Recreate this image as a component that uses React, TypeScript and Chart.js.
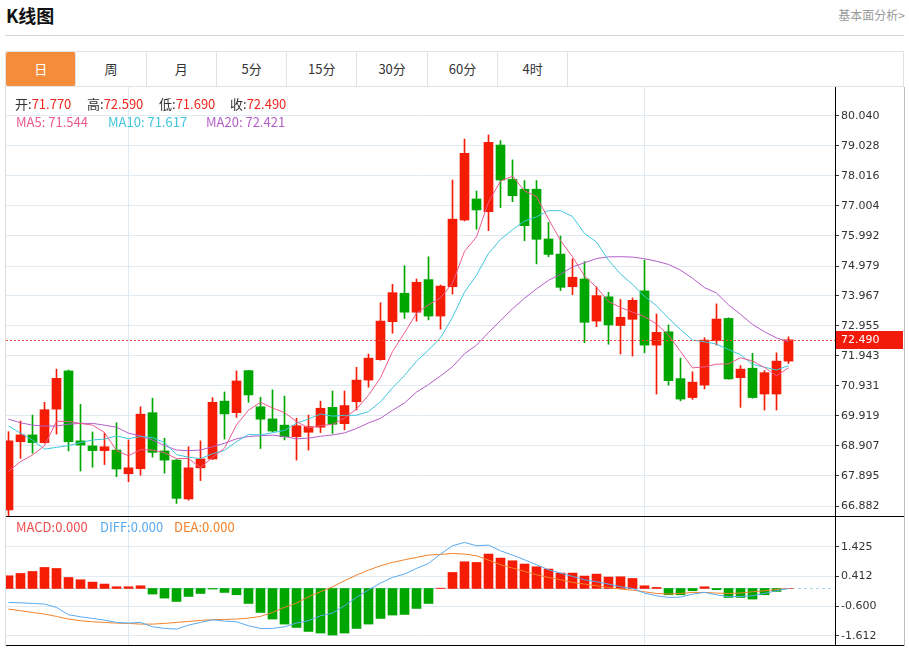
import React, { useEffect, useRef } from 'react';
import { Chart, registerables } from 'chart.js';

Chart.register(...registerables);

// ---------------- data ----------------
const opens = [66.75, 69.05, 69.28, 69.02, 70.15, 71.44, 69.08, 68.91, 68.75, 68.77, 67.97, 68.14, 70.03, 68.74, 68.43, 67.12, 68.17, 68.47, 70.42, 70.03, 71.45, 70.23, 69.82, 69.61, 69.22, 69.37, 69.54, 70.21, 69.66, 70.40, 71.13, 71.82, 73.10, 74.06, 73.42, 74.52, 73.29, 74.28, 76.53, 77.24, 76.81, 79.06, 77.90, 77.57, 77.57, 75.89, 75.38, 74.28, 74.54, 73.12, 73.94, 72.97, 73.18, 74.14, 72.31, 72.76, 71.18, 70.54, 70.96, 72.46, 73.21, 71.21, 71.53, 70.66, 70.66, 71.77];
const highs = [69.39, 69.75, 69.95, 70.38, 71.50, 71.47, 70.31, 69.38, 69.34, 69.69, 69.11, 70.23, 70.52, 69.17, 68.45, 68.88, 69.08, 70.54, 70.73, 71.44, 71.46, 70.55, 70.80, 70.59, 69.84, 69.95, 70.42, 70.76, 70.76, 71.56, 72.01, 73.74, 74.36, 74.99, 74.54, 75.29, 74.34, 77.88, 79.26, 77.51, 79.40, 79.21, 78.56, 77.86, 77.86, 76.45, 75.99, 75.22, 75.13, 74.28, 74.09, 73.85, 73.90, 75.18, 73.36, 72.99, 71.87, 71.41, 72.56, 73.70, 73.23, 71.62, 72.03, 71.45, 72.05, 72.59];
const lows = [66.45, 68.49, 68.66, 69.00, 69.31, 68.74, 68.06, 68.19, 68.28, 67.87, 67.70, 67.92, 68.53, 67.99, 66.97, 67.08, 67.74, 68.45, 69.14, 69.87, 70.38, 68.82, 69.39, 69.11, 68.43, 68.77, 69.36, 69.33, 69.45, 70.12, 70.89, 71.80, 72.71, 73.21, 73.12, 73.16, 72.85, 74.03, 76.50, 76.22, 76.17, 76.95, 77.15, 75.83, 75.05, 75.29, 74.15, 74.01, 72.39, 72.93, 72.34, 72.01, 71.94, 72.05, 70.66, 70.96, 70.43, 70.48, 70.83, 72.31, 71.16, 70.21, 70.52, 70.12, 70.12, 71.69];
const closes = [69.08, 69.28, 69.02, 70.13, 71.19, 69.05, 68.94, 68.75, 68.88, 68.13, 68.17, 69.98, 68.69, 68.43, 67.14, 68.17, 68.47, 70.38, 69.99, 71.10, 70.63, 69.81, 69.41, 69.22, 69.59, 69.56, 70.18, 69.64, 70.27, 71.13, 71.87, 73.12, 74.08, 73.42, 74.43, 73.29, 74.30, 76.56, 78.78, 76.87, 79.15, 77.88, 77.35, 76.34, 75.88, 75.37, 74.26, 74.60, 73.08, 73.98, 72.99, 73.25, 73.82, 72.31, 72.74, 71.11, 70.49, 71.06, 72.48, 73.19, 71.17, 71.50, 70.54, 71.38, 71.77, 72.49];

const ma5 = [68.05, 68.38, 68.60, 68.91, 69.74, 69.734, 69.666, 69.612, 69.362, 68.75, 68.574, 68.782, 68.77, 68.68, 68.482, 68.482, 68.18, 68.518, 68.83, 69.622, 70.114, 70.382, 70.188, 70.034, 69.732, 69.518, 69.592, 69.638, 69.848, 70.156, 70.618, 71.206, 72.094, 72.724, 73.384, 73.668, 73.904, 74.40, 75.472, 75.96, 77.132, 77.848, 78.006, 77.518, 77.32, 76.564, 75.84, 75.29, 74.638, 74.258, 73.782, 73.58, 73.424, 73.27, 73.022, 72.646, 72.094, 71.542, 71.576, 71.666, 71.678, 71.88, 71.776, 71.556, 71.272, 71.544];
const ma10 = [69.58, 69.34, 69.11, 68.80, 68.86, 68.92, 69.02, 69.11, 69.14, 69.245, 69.154, 69.224, 69.191, 69.021, 68.616, 68.528, 68.481, 68.644, 68.755, 69.052, 69.298, 69.281, 69.353, 69.432, 69.677, 69.816, 69.987, 69.913, 69.941, 69.944, 70.068, 70.399, 70.866, 71.286, 71.77, 72.143, 72.555, 73.247, 74.098, 74.672, 75.40, 75.876, 76.203, 76.495, 76.64, 76.848, 76.844, 76.648, 76.078, 75.789, 75.173, 74.71, 74.357, 73.954, 73.64, 73.214, 72.837, 72.483, 72.423, 72.344, 72.162, 71.987, 71.659, 71.566, 71.469, 71.617];
const ma20 = [69.81, 69.69, 69.61, 69.58, 69.58, 69.64, 69.67, 69.67, 69.61, 69.54, 69.34, 69.25, 69.11, 68.92, 68.77, 68.75, 68.77, 68.88, 69.00, 69.149, 69.226, 69.253, 69.272, 69.227, 69.147, 69.172, 69.234, 69.279, 69.348, 69.498, 69.683, 69.84, 70.11, 70.359, 70.724, 70.98, 71.271, 71.58, 72.02, 72.308, 72.734, 73.138, 73.535, 73.891, 74.205, 74.496, 74.70, 74.948, 75.088, 75.231, 75.287, 75.293, 75.28, 75.225, 75.14, 75.031, 74.84, 74.566, 74.25, 74.067, 73.668, 73.349, 73.008, 72.76, 72.555, 72.421];

const macdHist = [0.433, 0.512, 0.580, 0.717, 0.682, 0.375, 0.297, 0.218, 0.150, 0.058, 0.058, 0.092, -0.191, -0.328, -0.444, -0.273, -0.171, -0.020, -0.136, -0.215, -0.512, -0.819, -1.044, -1.215, -1.331, -1.467, -1.522, -1.590, -1.522, -1.365, -1.215, -1.024, -0.908, -0.887, -0.682, -0.512, 0.010, 0.546, 0.911, 0.887, 1.174, 1.037, 0.945, 0.833, 0.740, 0.662, 0.525, 0.525, 0.423, 0.491, 0.389, 0.399, 0.341, 0.092, 0.034, -0.215, -0.215, -0.078, 0.058, -0.044, -0.307, -0.307, -0.362, -0.215, -0.102, 0.000];
const diffLine = [-0.477, -0.488, -0.511, -0.533, -0.647, -0.897, -0.966, -1.023, -1.079, -1.159, -1.182, -1.159, -1.307, -1.364, -1.386, -1.250, -1.159, -1.068, -1.113, -1.136, -1.273, -1.364, -1.364, -1.307, -1.182, -1.102, -0.931, -0.840, -0.590, -0.306, -0.044, 0.183, 0.376, 0.490, 0.683, 0.854, 1.173, 1.457, 1.571, 1.457, 1.480, 1.286, 1.139, 0.979, 0.809, 0.638, 0.524, 0.411, 0.297, 0.229, 0.149, 0.058, 0.001, -0.158, -0.249, -0.306, -0.295, -0.192, -0.135, -0.215, -0.283, -0.272, -0.249, -0.170, -0.078, 0.000];
const deaLine = [-0.704, -0.761, -0.818, -0.875, -0.954, -1.045, -1.102, -1.136, -1.159, -1.182, -1.193, -1.216, -1.216, -1.193, -1.159, -1.125, -1.091, -1.068, -1.057, -1.045, -1.011, -0.954, -0.818, -0.647, -0.499, -0.283, -0.113, 0.058, 0.263, 0.456, 0.627, 0.775, 0.888, 0.979, 1.059, 1.139, 1.161, 1.195, 1.173, 1.116, 0.968, 0.809, 0.695, 0.581, 0.467, 0.376, 0.297, 0.206, 0.149, 0.092, 0.035, -0.022, -0.056, -0.113, -0.170, -0.192, -0.170, -0.135, -0.135, -0.158, -0.170, -0.158, -0.113, -0.078, -0.034, 0.000];

const priceTickLabels = ['80.040', '79.028', '78.016', '77.004', '75.992', '74.979', '73.967', '72.955', '71.943', '70.931', '69.919', '68.907', '67.895', '66.882'];
const macdTickLabels = ['1.425', '0.412', '-0.600', '-1.612'];
const monthStartIdx = [10, 53];
const tabLabels = ['日', '周', '月', '5分', '15分', '30分', '60分', '4时'];

const ohlcInfo = [
  { k: '开', v: '71.770' },
  { k: '高', v: '72.590' },
  { k: '低', v: '71.690' },
  { k: '收', v: '72.490' },
];
const maInfo = [
  { t: 'MA5: 71.544' },
  { t: 'MA10: 71.617' },
  { t: 'MA20: 72.421' },
];
const macdInfo = [{ t: 'MACD:0.000' }, { t: 'DIFF:0.000' }, { t: 'DEA:0.000' }];

// ---------------- styles ----------------
const UP = '#f41c04';
const DOWN = '#00a600';
const GRID = '#e0eaf2';
const MA_COLORS = ['#ec5a8e', '#40c6dd', '#b45ec9'];
const MACD_COLORS = ['#ee4d4d', '#5aaaf0', '#f3822c'];
const CANVAS_W = 898;
const MAIN_H = 430;
const MACD_H = 129;
const AXIS_W = 69;
const SLOT = 12;
const FIRST_X = 2.5;
const X_MIN = -FIRST_X / SLOT;
const X_MAX = (CANVAS_W - AXIS_W - FIRST_X) / SLOT;
const AXIS_FONT = { family: 'DejaVu Sans', size: 11 };
const UI_FONT = '"Noto Sans CJK SC", "Noto Sans", sans-serif';

const idx = closes.map((_, i) => i);

function makeXScale() {
  return {
    type: 'linear' as const,
    min: X_MIN,
    max: X_MAX,
    offset: false,
    afterBuildTicks: (s: any) => {
      s.ticks = monthStartIdx.map((v) => ({ value: v }));
    },
    afterFit: (s: any) => {
      s.height = 0;
      s.paddingLeft = 0;
      s.paddingRight = 0;
    },
    ticks: { display: false },
    grid: { color: GRID, drawTicks: false, offset: false },
    border: { display: false },
  };
}

function makeYScale(labels: string[], min: number, max: number) {
  return {
    type: 'linear' as const,
    position: 'right' as const,
    min,
    max,
    beginAtZero: false,
    afterBuildTicks: (s: any) => {
      s.ticks = labels.map((l) => ({ value: parseFloat(l) }));
    },
    afterFit: (s: any) => {
      s.width = AXIS_W;
      s.paddingTop = 0;
      s.paddingBottom = 0;
    },
    grid: { color: GRID, tickColor: '#333', tickLength: 4, lineWidth: 1 },
    border: { display: true, color: '#000', width: 1 },
    ticks: {
      autoSkip: false,
      padding: 2,
      color: '#333',
      font: AXIS_FONT,
      callback: (v: any) => labels.find((l) => Math.abs(parseFloat(l) - Number(v)) < 1e-6) ?? '',
    },
  };
}

export default function App() {
  const mainRef = useRef<HTMLCanvasElement | null>(null);
  const macdRef = useRef<HTMLCanvasElement | null>(null);

  useEffect(() => {
    document.body.style.margin = '0';
    if (!mainRef.current || !macdRef.current) return;
    const colorOf = (i: number) => (closes[i] >= opens[i] ? UP : DOWN);
    const lastClose = closes[closes.length - 1];

    const mainPlugin = {
      id: 'mainDeco',
      afterDraw(chart: any) {
        const { ctx, chartArea } = chart;
        const y = chart.scales.y.getPixelForValue(lastClose);
        ctx.save();
        // current price dashed line
        ctx.strokeStyle = '#f04a3a';
        ctx.lineWidth = 1;
        ctx.setLineDash([2, 2]);
        ctx.beginPath();
        ctx.moveTo(chartArea.left, Math.round(y) + 0.5);
        ctx.lineTo(chartArea.right, Math.round(y) + 0.5);
        ctx.stroke();
        ctx.setLineDash([]);
        // price label
        ctx.fillStyle = '#f21a0a';
        ctx.fillRect(chartArea.right + 1, Math.round(y) - 9, 67, 18);
        ctx.fillStyle = '#fff';
        ctx.font = '11px "DejaVu Sans"';
        ctx.textBaseline = 'middle';
        ctx.textAlign = 'left';
        ctx.fillText(lastClose.toFixed(3), chartArea.right + 6, Math.round(y) + 0.5);
        // bottom black line
        ctx.fillStyle = '#000';
        ctx.fillRect(0, chart.height - 1, chart.width, 1);
        ctx.restore();
      },
    };

    const macdPlugin = {
      id: 'macdDeco',
      beforeDatasetsDraw(chart: any) {
        const { ctx, chartArea } = chart;
        const y = chart.scales.y.getPixelForValue(0);
        ctx.save();
        ctx.strokeStyle = '#a8d6e8';
        ctx.lineWidth = 1;
        ctx.setLineDash([3, 3]);
        ctx.beginPath();
        ctx.moveTo(chartArea.left, Math.round(y) + 0.5);
        ctx.lineTo(chartArea.right, Math.round(y) + 0.5);
        ctx.stroke();
        ctx.restore();
      },
      afterDraw(chart: any) {
        const { ctx } = chart;
        ctx.save();
        ctx.fillStyle = '#000';
        ctx.fillRect(0, chart.height - 1, chart.width, 1);
        ctx.restore();
      },
    };

    const lineDs = (label: string, vals: number[], color: string) => ({
      type: 'line' as const,
      label,
      data: idx.map((i) => ({ x: i, y: vals[i] })),
      borderColor: color,
      borderWidth: 1,
      pointRadius: 0,
      tension: 0,
      fill: false,
      order: 0,
    });

    const main = new Chart(mainRef.current, {
      type: 'bar',
      data: {
        datasets: [
          {
            type: 'bar',
            label: 'wick',
            data: idx.map((i) => ({ x: i, y: [lows[i], highs[i]] })) as any,
            backgroundColor: idx.map(colorOf),
            barThickness: 1,
            grouped: false,
            order: 2,
          },
          {
            type: 'bar',
            label: 'body',
            data: idx.map((i) => ({ x: i, y: [opens[i], closes[i]] })) as any,
            backgroundColor: idx.map(colorOf),
            barThickness: 9,
            minBarLength: 1,
            grouped: false,
            order: 1,
          },
          lineDs('MA5', ma5, MA_COLORS[0]),
          lineDs('MA10', ma10, MA_COLORS[1]),
          lineDs('MA20', ma20, MA_COLORS[2]),
        ] as any,
      },
      options: {
        responsive: false,
        animation: false,
        events: [],
        layout: { padding: 0 },
        plugins: { legend: { display: false }, tooltip: { enabled: false } },
        scales: {
          x: makeXScale() as any,
          y: makeYScale(priceTickLabels, 66.511, 81.018) as any,
        },
      },
      plugins: [mainPlugin],
    });

    const macd = new Chart(macdRef.current, {
      type: 'bar',
      data: {
        datasets: [
          {
            type: 'bar',
            label: 'MACD',
            data: idx.map((i) => ({ x: i, y: macdHist[i] })) as any,
            backgroundColor: idx.map((i) => (macdHist[i] >= 0 ? UP : DOWN)),
            barThickness: 9,
            grouped: false,
            order: 1,
          },
          lineDs('DIFF', diffLine, MACD_COLORS[1]),
          lineDs('DEA', deaLine, MACD_COLORS[2]),
        ] as any,
      },
      options: {
        responsive: false,
        animation: false,
        events: [],
        layout: { padding: 0 },
        plugins: { legend: { display: false }, tooltip: { enabled: false } },
        scales: {
          x: makeXScale() as any,
          y: makeYScale(macdTickLabels, -1.9635, 2.4385) as any,
        },
      },
      plugins: [macdPlugin],
    });

    return () => {
      main.destroy();
      macd.destroy();
    };
  }, []);

  const abs = (s: React.CSSProperties): React.CSSProperties => ({ position: 'absolute', ...s });
  const legendLeft1 = [15, 87, 159, 230];
  const legendLeft2 = [16, 108, 206];
  const legendLeft3 = [16, 100, 174];

  return (
    <div style={{ position: 'relative', width: 909, height: 648, background: '#fff', fontFamily: UI_FONT, overflow: 'hidden' }}>
      <div style={abs({ left: 6, top: 3, fontSize: 18, fontWeight: 'bold', lineHeight: '24px', color: '#111', whiteSpace: 'nowrap' })}>K线图</div>
      <div style={abs({ right: 4, top: 6, fontSize: 12, lineHeight: '18px', color: '#999', whiteSpace: 'nowrap' })}>基本面分析&gt;</div>
      <div style={abs({ left: 5, top: 35, width: 899, height: 1, background: '#d6d6d6' })} />

      <div style={abs({ left: 5, top: 51, width: 899, height: 36, border: '1px solid #e2e2e2', boxSizing: 'border-box', display: 'flex' })}>
        {tabLabels.map((t, i) => (
          <div
            key={t}
            style={{
              width: 70.3,
              height: 34,
              lineHeight: '34px',
              textAlign: 'center',
              fontSize: 13,
              color: i === 0 ? '#fff' : '#333',
              background: i === 0 ? '#f58c3c' : 'transparent',
              borderRight: '1px solid #e2e2e2',
              boxSizing: 'border-box',
              borderRadius: i === 0 ? 2 : 0,
            }}
          >
            {t}
          </div>
        ))}
      </div>

      <div style={abs({ left: 5, top: 87, width: 1, height: 559, background: '#dcdcdc' })} />
      <div style={abs({ left: 904, top: 87, width: 1, height: 559, background: '#bdbdbd' })} />

      <canvas ref={mainRef} width={CANVAS_W} height={MAIN_H} style={abs({ left: 6, top: 87, width: CANVAS_W, height: MAIN_H })} />
      <canvas ref={macdRef} width={CANVAS_W} height={MACD_H} style={abs({ left: 6, top: 517, width: CANVAS_W, height: MACD_H })} />

      {ohlcInfo.map((o, i) => (
        <div key={o.k} style={abs({ left: legendLeft1[i], top: 95, fontSize: 13, lineHeight: '18px', whiteSpace: 'nowrap' })}>
          <span style={{ color: '#333' }}>{o.k}:</span>
          <span style={{ color: '#f0281e' }}>{o.v}</span>
        </div>
      ))}
      {maInfo.map((m, i) => (
        <div key={m.t} style={abs({ left: legendLeft2[i], top: 113, fontSize: 13, lineHeight: '18px', color: MA_COLORS[i], whiteSpace: 'nowrap' })}>
          {m.t}
        </div>
      ))}
      {macdInfo.map((m, i) => (
        <div key={m.t} style={abs({ left: legendLeft3[i], top: 518, fontSize: 13, lineHeight: '18px', color: MACD_COLORS[i], whiteSpace: 'nowrap' })}>
          {m.t}
        </div>
      ))}
    </div>
  );
}
